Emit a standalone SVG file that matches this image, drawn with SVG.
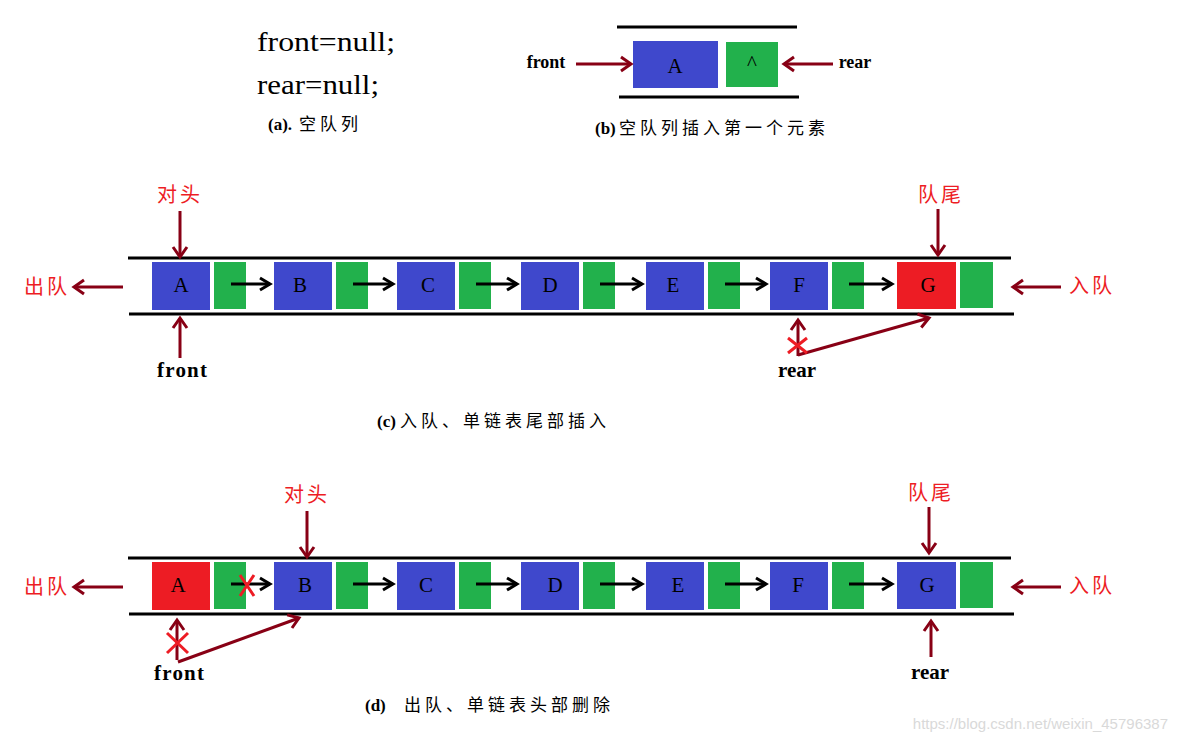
<svg xmlns="http://www.w3.org/2000/svg" width="1178" height="742" viewBox="0 0 1178 742">
<defs>
<style>
.bar{stroke:#000;stroke-width:3}
.blue{fill:#3f48cc}
.green{fill:#22b14c}
.red{fill:#ed1c24}
.letter{font-family:"Liberation Serif",serif;font-size:21px;fill:#000;text-anchor:middle}
.ptr{font-family:"Liberation Serif",serif;font-weight:bold;font-size:21px;fill:#000;text-anchor:middle}
.ptrs{font-family:"Liberation Serif",serif;font-weight:bold;font-size:18px;fill:#000;text-anchor:middle}
.lab{font-family:"Noto Sans CJK SC",sans-serif;font-size:20px;fill:#ed1c24;text-anchor:middle;letter-spacing:3px}
.cap{font-family:"Liberation Serif","Noto Sans CJK SC",serif;font-size:17px;font-weight:bold;fill:#000}
.cj{font-family:"Noto Sans CJK SC",sans-serif;font-size:17px;font-weight:normal;letter-spacing:4px}
.code{font-family:"Liberation Serif",serif;font-size:27px;fill:#000}
.dr{stroke:#880015;stroke-width:3;fill:none}
.bk{stroke:#000;stroke-width:3;fill:none}
.x{stroke:#ed1c24;stroke-width:3;fill:none}
</style>
<marker id="ahr" markerUnits="userSpaceOnUse" viewBox="-13 -10 15 20" markerWidth="15" markerHeight="20" refX="0" refY="0" orient="auto" overflow="visible">
<path d="M-10,-7 L0,0 L-10,7" fill="none" stroke="#880015" stroke-width="3"/>
</marker>
<marker id="ahb" markerUnits="userSpaceOnUse" viewBox="-13 -10 15 20" markerWidth="15" markerHeight="20" refX="0" refY="0" orient="auto" overflow="visible">
<path d="M-10,-6 L0,0 L-10,6" fill="none" stroke="#000" stroke-width="3"/>
</marker>
</defs>
<rect width="1178" height="742" fill="#fff"/>

<!-- (a) -->
<g id="panel-a">
<text class="code" x="257" y="51" textLength="138" lengthAdjust="spacingAndGlyphs">front=null;</text>
<text class="code" x="257" y="94" textLength="122" lengthAdjust="spacingAndGlyphs">rear=null;</text>
<text class="cap" x="268" y="130">(a).<tspan class="cj" x="299">空队列</tspan></text>
</g>

<!-- (b) -->
<g id="panel-b">
<line class="bar" x1="617" y1="27" x2="797" y2="27"/>
<line class="bar" x1="619" y1="97" x2="799" y2="97"/>
<g id="b-node-A">
<rect class="blue" x="633" y="41" width="85" height="47"/>
<text class="letter" x="675" y="73" font-size="20">A</text>
</g>
<g id="b-node-next">
<rect class="green" x="726" y="42" width="52" height="45"/>
<text class="letter" x="752" y="70" font-size="18">^</text>
</g>
<text class="ptrs" x="546" y="68">front</text>
<text class="ptrs" x="855" y="68">rear</text>
<text class="cap" x="595" y="134">(b)<tspan class="cj" x="619">空队列插入第一个元素</tspan></text>
</g>

<!-- (c) nodes -->
<g id="panel-c">
<line class="bar" x1="128" y1="258" x2="1011" y2="258"/>
<line class="bar" x1="129" y1="314" x2="1014" y2="314"/>
<g id="c-node-A"><rect class="blue" x="152" y="262" width="58" height="48"/><rect class="green" x="214" y="262" width="32" height="47"/><text class="letter" x="181" y="292">A</text></g>
<g id="c-node-B"><rect class="blue" x="274" y="262" width="58" height="48"/><rect class="green" x="336" y="262" width="32" height="47"/><text class="letter" x="300" y="292">B</text></g>
<g id="c-node-C"><rect class="blue" x="397" y="262" width="58" height="48"/><rect class="green" x="459" y="262" width="32" height="47"/><text class="letter" x="428" y="292">C</text></g>
<g id="c-node-D"><rect class="blue" x="521" y="262" width="58" height="48"/><rect class="green" x="583" y="262" width="32" height="47"/><text class="letter" x="550" y="292">D</text></g>
<g id="c-node-E"><rect class="blue" x="646" y="262" width="58" height="48"/><rect class="green" x="708" y="262" width="32" height="47"/><text class="letter" x="673" y="292">E</text></g>
<g id="c-node-F"><rect class="blue" x="770" y="262" width="58" height="48"/><rect class="green" x="832" y="262" width="32" height="47"/><text class="letter" x="799" y="292">F</text></g>
<g id="c-node-G"><rect class="red" x="897" y="262" width="59" height="47"/><rect class="green" x="960" y="262" width="33" height="46"/><text class="letter" x="928" y="292">G</text></g>
<text class="lab" x="180" y="202">对头</text>
<text class="lab" x="47" y="294">出队</text>
<text class="lab" x="941" y="202">队尾</text>
<text class="lab" x="1092" y="293">入队</text>
<text class="ptr" x="182" y="377" textLength="50" lengthAdjust="spacing">front</text>
<text class="ptr" x="797" y="377">rear</text>
<text class="cap" x="377" y="427">(c)<tspan class="cj" x="400">入队、单链表尾部插入</tspan></text>
</g>

<!-- (d) nodes -->
<g id="panel-d">
<line class="bar" x1="128" y1="558" x2="1011" y2="558"/>
<line class="bar" x1="129" y1="614" x2="1014" y2="614"/>
<g id="d-node-A"><rect class="red" x="152" y="562" width="58" height="48"/><rect class="green" x="214" y="562" width="32" height="47"/><text class="letter" x="178" y="592">A</text></g>
<g id="d-node-B"><rect class="blue" x="274" y="562" width="58" height="48"/><rect class="green" x="336" y="562" width="32" height="47"/><text class="letter" x="305" y="592">B</text></g>
<g id="d-node-C"><rect class="blue" x="397" y="562" width="58" height="48"/><rect class="green" x="459" y="562" width="32" height="47"/><text class="letter" x="426" y="592">C</text></g>
<g id="d-node-D"><rect class="blue" x="521" y="562" width="58" height="48"/><rect class="green" x="583" y="562" width="32" height="47"/><text class="letter" x="555" y="592">D</text></g>
<g id="d-node-E"><rect class="blue" x="646" y="562" width="58" height="48"/><rect class="green" x="708" y="562" width="32" height="47"/><text class="letter" x="678" y="592">E</text></g>
<g id="d-node-F"><rect class="blue" x="770" y="562" width="58" height="48"/><rect class="green" x="832" y="562" width="32" height="47"/><text class="letter" x="798" y="592">F</text></g>
<g id="d-node-G"><rect class="blue" x="897" y="562" width="59" height="47"/><rect class="green" x="960" y="562" width="33" height="46"/><text class="letter" x="927" y="592">G</text></g>
<text class="lab" x="307" y="502">对头</text>
<text class="lab" x="47" y="594">出队</text>
<text class="lab" x="931" y="500">队尾</text>
<text class="lab" x="1092" y="593">入队</text>
<text class="ptr" x="179" y="680" textLength="50" lengthAdjust="spacing">front</text>
<text class="ptr" x="930" y="679">rear</text>
<text class="cap" x="365" y="711">(d)<tspan class="cj" x="404">出队、单链表头部删除</tspan></text>
</g>

<!-- connectors -->
<g id="connectors">
<!-- (b) -->
<line class="dr" x1="576" y1="64" x2="631" y2="64" marker-end="url(#ahr)"/>
<line class="dr" x1="833" y1="64" x2="784" y2="64" marker-end="url(#ahr)"/>
<!-- (c) links -->
<line class="bk" x1="231" y1="284" x2="270" y2="284" marker-end="url(#ahb)"/>
<line class="bk" x1="353" y1="284" x2="393" y2="284" marker-end="url(#ahb)"/>
<line class="bk" x1="476" y1="284" x2="517" y2="284" marker-end="url(#ahb)"/>
<line class="bk" x1="600" y1="284" x2="642" y2="284" marker-end="url(#ahb)"/>
<line class="bk" x1="725" y1="284" x2="766" y2="284" marker-end="url(#ahb)"/>
<line class="bk" x1="849" y1="284" x2="892" y2="284" marker-end="url(#ahb)"/>
<!-- (c) pointers -->
<line class="dr" x1="180" y1="211" x2="180" y2="257" marker-end="url(#ahr)"/>
<line class="dr" x1="180" y1="358" x2="180" y2="318" marker-end="url(#ahr)"/>
<line class="dr" x1="123" y1="287" x2="74" y2="287" marker-end="url(#ahr)"/>
<line class="dr" x1="938" y1="209" x2="938" y2="255" marker-end="url(#ahr)"/>
<line class="dr" x1="1061" y1="287" x2="1013" y2="287" marker-end="url(#ahr)"/>
<line class="dr" x1="798" y1="356" x2="798" y2="320" marker-end="url(#ahr)"/>
<line class="dr" x1="798" y1="355" x2="929" y2="318" marker-end="url(#ahr)"/>
<path class="x" d="M788,338 L807,353 M807,338 L788,353"/>
<!-- (d) links -->
<line class="bk" x1="231" y1="584" x2="270" y2="584" marker-end="url(#ahb)"/>
<line class="bk" x1="353" y1="584" x2="393" y2="584" marker-end="url(#ahb)"/>
<line class="bk" x1="476" y1="584" x2="517" y2="584" marker-end="url(#ahb)"/>
<line class="bk" x1="600" y1="584" x2="642" y2="584" marker-end="url(#ahb)"/>
<line class="bk" x1="725" y1="584" x2="766" y2="584" marker-end="url(#ahb)"/>
<line class="bk" x1="849" y1="584" x2="892" y2="584" marker-end="url(#ahb)"/>
<path class="x" d="M240,575 L254,596 M254,575 L240,596"/>
<!-- (d) pointers -->
<line class="dr" x1="307" y1="511" x2="307" y2="557" marker-end="url(#ahr)"/>
<line class="dr" x1="123" y1="587" x2="74" y2="587" marker-end="url(#ahr)"/>
<line class="dr" x1="929" y1="507" x2="929" y2="553" marker-end="url(#ahr)"/>
<line class="dr" x1="1061" y1="587" x2="1013" y2="587" marker-end="url(#ahr)"/>
<line class="dr" x1="931" y1="657" x2="931" y2="621" marker-end="url(#ahr)"/>
<line class="dr" x1="177" y1="660" x2="177" y2="620" marker-end="url(#ahr)"/>
<line class="dr" x1="178" y1="662" x2="299" y2="618" marker-end="url(#ahr)"/>
<path class="x" d="M167,633 L188,653 M188,633 L167,653"/>
</g>

<text x="1168" y="729" font-family="'Liberation Sans',sans-serif" font-size="15" fill="#d9d9d9" text-anchor="end">https://blog.csdn.net/weixin_45796387</text>
</svg>
